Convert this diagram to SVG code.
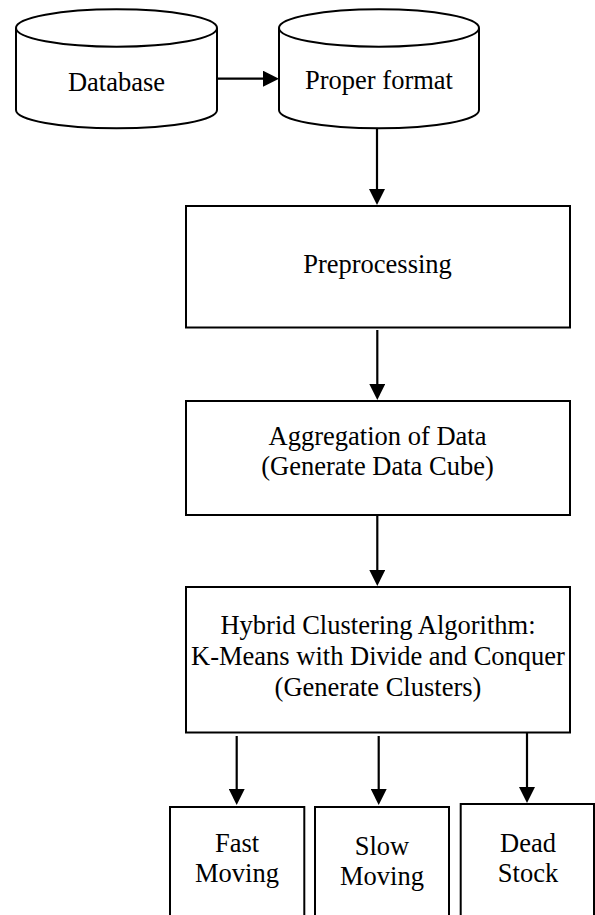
<svg xmlns="http://www.w3.org/2000/svg" width="595" height="915" viewBox="0 0 595 915">
<style>
  .shape { fill: #ffffff; stroke: #000000; stroke-width: 2; }
  .edge { fill: none; stroke: #000000; stroke-width: 2.2; }
  text { font-family: "Liberation Serif", "Times New Roman", serif; font-size: 26.5px; fill: #000000; text-anchor: middle; }
</style>
<defs>
  <marker id="arrow" markerUnits="userSpaceOnUse" markerWidth="16" markerHeight="16" refX="8" refY="8" orient="auto">
    <path d="M0,0 L16,8 L0,16 Z" fill="#000000"/>
  </marker>
</defs>
<rect width="595" height="915" fill="#ffffff"/>

<g id="connectors">
  <line class="edge" x1="217" y1="78.7" x2="271" y2="78.7" marker-end="url(#arrow)"/>
  <line class="edge" x1="377" y1="128.5" x2="377" y2="197" marker-end="url(#arrow)"/>
  <line class="edge" x1="377.3" y1="330" x2="377.3" y2="392" marker-end="url(#arrow)"/>
  <line class="edge" x1="377.3" y1="515" x2="377.3" y2="578" marker-end="url(#arrow)"/>
  <line class="edge" x1="236.7" y1="736" x2="236.7" y2="797" marker-end="url(#arrow)"/>
  <line class="edge" x1="378.7" y1="736" x2="378.7" y2="797" marker-end="url(#arrow)"/>
  <line class="edge" x1="527" y1="733" x2="527" y2="795" marker-end="url(#arrow)"/>
</g>

<g id="database">
  <path class="shape" d="M16,28 L16,110 A100.5,18.3 0 0 0 217,110 L217,28 A100.5,18.7 0 0 0 16,28 Z"/>
  <path class="shape" d="M16,28 A100.5,18.7 0 0 0 217,28" fill="none"/>
  <text x="116.5" y="90.7">Database</text>
</g>

<g id="proper-format">
  <path class="shape" d="M279,28 L279,110 A100,18.3 0 0 0 479,110 L479,28 A100,18.7 0 0 0 279,28 Z"/>
  <path class="shape" d="M279,28 A100,18.7 0 0 0 479,28" fill="none"/>
  <text x="379" y="88.5">Proper format</text>
</g>

<g id="preprocessing">
  <rect class="shape" x="186" y="206" width="384" height="121.5"/>
  <text x="377.5" y="272.7">Preprocessing</text>
</g>

<g id="aggregation">
  <rect class="shape" x="186" y="401" width="384" height="114"/>
  <text x="377.5" y="445">Aggregation of Data</text>
  <text x="377.5" y="475">(Generate Data Cube)</text>
</g>

<g id="hybrid-clustering">
  <rect class="shape" x="186" y="587" width="384" height="145.5"/>
  <text x="378" y="633.5">Hybrid Clustering Algorithm:</text>
  <text x="378" y="664.5">K-Means with Divide and Conquer</text>
  <text x="378" y="695.5">(Generate Clusters)</text>
</g>

<g id="fast-moving">
  <rect class="shape" x="170" y="807" width="134.3" height="130"/>
  <text x="237" y="851.7">Fast</text>
  <text x="237" y="881.7">Moving</text>
</g>

<g id="slow-moving">
  <rect class="shape" x="315" y="807" width="134" height="130"/>
  <text x="382" y="855">Slow</text>
  <text x="382" y="885">Moving</text>
</g>

<g id="dead-stock">
  <rect class="shape" x="460.7" y="804" width="133.3" height="130"/>
  <text x="528" y="851.7">Dead</text>
  <text x="528" y="882">Stock</text>
</g>
</svg>
